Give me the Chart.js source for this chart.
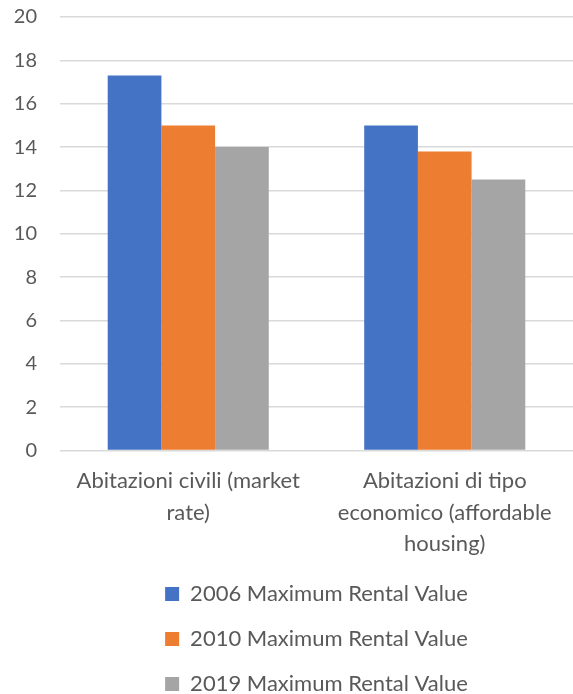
<!DOCTYPE html>
<html>
<head>
<meta charset="utf-8">
<script src="https://cdn.jsdelivr.net/npm/chart.js@4/dist/chart.umd.min.js"></script>
<style>
  html, body { margin: 0; padding: 0; background: #fff; overflow: hidden; }
  #wrap { width: 573px; height: 694px; overflow: hidden; }
  /* canvas is a bit taller than the window, like the cropped original */
  #box { width: 573px; height: 723px; margin-top: -18px; }
</style>
</head>
<body>
<div id="wrap"><div id="box"><canvas id="rentChart"></canvas></div></div>
<script>
// data
const categories = [
  ['Abitazioni civili (market', 'rate)'],
  ['Abitazioni di tipo', 'economico (affordable', 'housing)']
];
const seriesNames = ['2006 Maximum Rental Value', '2010 Maximum Rental Value', '2019 Maximum Rental Value'];
const values2006 = [17.3, 15.0];
const values2010 = [15.0, 13.8];
const values2019 = [14.0, 12.5];
const colors = ['#4472C4', '#ED7D31', '#A5A5A5'];

const textColor = '#595959';
const fontFamily = 'Lato, "Open Sans", sans-serif';

const ctx = document.getElementById('rentChart').getContext('2d');

const chart = new Chart(ctx, {
  type: 'bar',
  data: {
    labels: categories,
    datasets: [values2006, values2010, values2019].map((vals, i) => ({
      label: seriesNames[i],
      data: vals,
      backgroundColor: colors[i],
      borderWidth: 0,
      categoryPercentage: 0.628,
      barPercentage: 1
    }))
  },
  options: {
    responsive: true,
    maintainAspectRatio: false,
    animation: false,
    layout: { padding: 0 },
    plugins: {
      tooltip: { enabled: false },
      legend: {
        position: 'bottom',
        fullSize: false,
        labels: {
          color: textColor,
          font: { family: fontFamily, size: 22 },
          boxWidth: 14,
          boxHeight: 14,
          padding: 23
        }
      }
    },
    scales: {
      x: {
        grid: { display: false, drawTicks: false },
        border: { display: false },
        ticks: {
          color: textColor,
          font: { family: fontFamily, size: 22, lineHeight: 1.43 },
          padding: 15,
          maxRotation: 0,
          autoSkip: false
        },
        afterFit: scale => { scale.height = 109.5; }
      },
      y: {
        min: 0,
        max: 20,
        grid: { color: '#d9d9d9', lineWidth: 1.5, drawTicks: false },
        border: { display: false },
        ticks: {
          stepSize: 2,
          color: textColor,
          font: { family: fontFamily, size: 20 },
          padding: 23
        },
        afterFit: scale => { scale.width = 60; }
      }
    }
  }
});
</script>
</body>
</html>
